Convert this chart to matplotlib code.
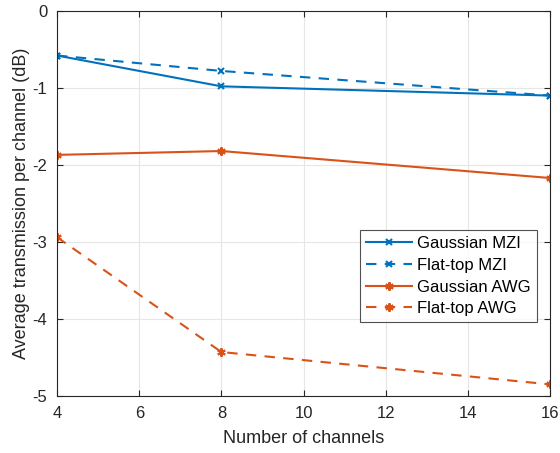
import matplotlib
matplotlib.use('Agg')
import matplotlib.pyplot as plt

channels = [4, 8, 16]
gaussian_mzi = [-0.58, -0.98, -1.10]
flattop_mzi = [-0.58, -0.78, -1.10]
gaussian_awg = [-1.87, -1.82, -2.17]
flattop_awg = [-2.94, -4.43, -4.85]

blue = '#0072BD'
orange = '#D95319'
asterisk = (6, 2, 0)

plt.rcParams['font.family'] = ['Liberation Sans', 'DejaVu Sans']
plt.rcParams['axes.unicode_minus'] = False

fig = plt.figure(figsize=(5.6, 4.53), dpi=100)
ax = fig.add_axes([0.102, 0.126, 0.880, 0.850])

ax.plot(channels, gaussian_mzi, color=blue, linestyle='-', marker='x', markersize=5, mew=1.5, lw=1.5, label='Gaussian MZI')
ax.plot(channels, flattop_mzi, color=blue, linestyle=(0, (5, 4)), marker='x', markersize=5, mew=1.5, lw=1.5, label='Flat-top MZI')
ax.plot(channels, gaussian_awg, color=orange, linestyle='-', marker=asterisk, markersize=6, mew=1.5, lw=1.5, label='Gaussian AWG')
ax.plot(channels, flattop_awg, color=orange, linestyle=(0, (5, 4)), marker=asterisk, markersize=6, mew=1.5, lw=1.5, label='Flat-top AWG')

ax.set_xlim(4, 16)
ax.set_ylim(-5, 0)
ax.set_xticks([4, 6, 8, 10, 12, 14, 16])
ax.set_yticks([-5, -4, -3, -2, -1, 0])
ax.grid(True, color='#e6e6e6', lw=0.8)
ax.set_axisbelow(True)
for s in ax.spines.values():
    s.set_color('#262626')
    s.set_linewidth(0.8)
ax.tick_params(direction='in', colors='#262626', labelsize=12, length=4, pad=7, top=True, right=True)
ax.set_xlabel('Number of channels', fontsize=13, color='#262626', labelpad=7)
ax.set_ylabel('Average transmission per channel (dB)', fontsize=13, color='#262626', labelpad=2)

leg = ax.legend(loc='lower right', bbox_to_anchor=(0.99, 0.17), fontsize=12, frameon=True, fancybox=False,
                edgecolor='#262626', handlelength=2.8, borderpad=0.35, labelspacing=0.4, handletextpad=0.3)
leg.get_frame().set_linewidth(0.8)

fig.savefig('out.png', dpi=100)
